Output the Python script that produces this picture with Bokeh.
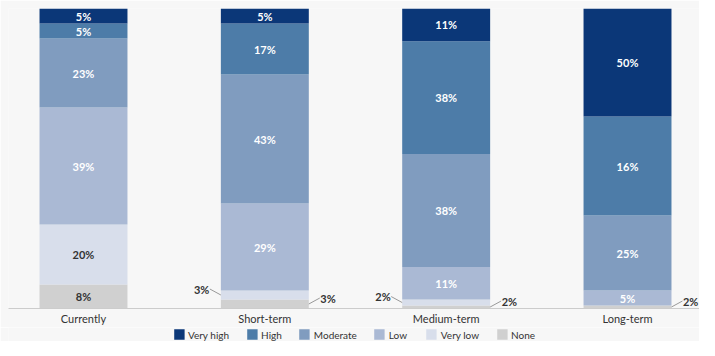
import numpy as np
from bokeh.plotting import figure
from bokeh.layouts import column
from bokeh.models import ColumnDataSource, Range1d, FixedTicker, Legend, LegendItem
from bokeh.embed import file_html
from bokeh.resources import INLINE
from bokeh.core.properties import value

categories = ["Currently", "Short-term", "Medium-term", "Long-term"]

# bar segment sizes, bottom to top
none = [8, 3, 1, 1]
very_low = [20, 3, 2, 0]
low = [39, 29, 11, 5]
moderate = [23, 43, 38, 25]
high = [5, 17, 38, 33]
very_high = [5, 5, 11, 36]

# data labels as printed on the chart
none_labels = ["8%", "3%", "2%", "2%"]
very_low_labels = ["20%", "3%", "2%", ""]
low_labels = ["39%", "29%", "11%", "5%"]
moderate_labels = ["23%", "43%", "38%", "25%"]
high_labels = ["5%", "17%", "38%", "16%"]
very_high_labels = ["5%", "5%", "11%", "50%"]

series = [
    ("None", none, none_labels, "#d0d0d0", "#333333", "right"),
    ("Very low", very_low, very_low_labels, "#d8deeb", "#333333", "left"),
    ("Low", low, low_labels, "#aab9d4", "#ffffff", "left"),
    ("Moderate", moderate, moderate_labels, "#809cbf", "#ffffff", "left"),
    ("High", high, high_labels, "#4d7ca8", "#ffffff", "left"),
    ("Very high", very_high, very_high_labels, "#0b3778", "#ffffff", "left"),
]

BG = "#f7f7f7"
FRAME_W, FRAME_H = 691, 300
X0, X1 = -0.4136, 3.397
BAR_W = 0.485
px_x = (X1 - X0) / FRAME_W
px_y = 100.0 / FRAME_H

p = figure(frame_width=FRAME_W, frame_height=FRAME_H, output_backend="svg", toolbar_location=None,
           x_range=Range1d(X0, X1), y_range=Range1d(0, 100),
           min_border_left=8, min_border_right=0, min_border_top=8, min_border_bottom=0)
p.background_fill_color = BG
p.border_fill_color = BG
p.outline_line_color = None
p.grid.visible = False
p.yaxis.visible = False

# small strip below the chart that carries the legend
lg = figure(frame_width=FRAME_W, frame_height=14, output_backend="svg", toolbar_location=None,
            x_range=Range1d(X0, X1), y_range=Range1d(1000, 1001),
            x_axis_type=None, y_axis_type=None,
            min_border_left=8, min_border_right=0, min_border_top=0, min_border_bottom=0)
lg.background_fill_color = BG
lg.border_fill_color = BG
lg.outline_line_color = None
lg.grid.visible = False

xs = np.arange(len(categories))
totals = np.sum([np.array(s[1], dtype=float) for s in series], axis=0)
bottom = np.zeros(len(categories))

legend_items = {}
in_x, in_y, in_t, in_c = [], [], [], []
out_l = dict(x=[], y=[], t=[], x0=[], y0=[], x1=[], y1=[])
out_r = dict(x=[], y=[], t=[], x0=[], y0=[], x1=[], y1=[])

for name, vals, labels, color, tcolor, side in series:
    v = np.array(vals, dtype=float) / totals * 100.0
    top = bottom + v
    src = ColumnDataSource(dict(x=xs, bottom=bottom.copy(), top=top.copy()))
    p.vbar(x="x", bottom="bottom", top="top", width=BAR_W, source=src,
           fill_color=color, line_color=None)
    legend_items[name] = lg.vbar(x="x", bottom="bottom", top="top", width=BAR_W, source=src,
                                 fill_color=color, line_color=None)
    for i in range(len(categories)):
        if not labels[i]:
            continue
        mid = (bottom[i] + top[i]) / 2
        if vals[i] >= 4:
            in_x.append(xs[i]); in_y.append(mid); in_t.append(labels[i]); in_c.append(tcolor)
        else:
            d = out_l if side == "left" else out_r
            edge = xs[i] - BAR_W / 2 if side == "left" else xs[i] + BAR_W / 2
            sgn = -1 if side == "left" else 1
            ex = edge + sgn * 11 * px_x
            ey = mid + 6 * px_y
            d["x0"].append(edge); d["y0"].append(mid)
            d["x1"].append(ex); d["y1"].append(ey)
            d["x"].append(ex + sgn * 0.5 * px_x); d["y"].append(ey); d["t"].append(labels[i])
    bottom = top

p.text(x="x", y="y", text="t", text_color="c",
       source=ColumnDataSource(dict(x=in_x, y=in_y, t=in_t, c=in_c)),
       text_font=value("Lato"), text_font_style="bold", text_font_size="11px",
       text_align="center", text_baseline="middle")

for d, align in ((out_l, "right"), (out_r, "left")):
    s = ColumnDataSource(d)
    p.segment(x0="x0", y0="y0", x1="x1", y1="y1", source=s, line_color="#999999", line_width=1)
    p.text(x="x", y="y", text="t", source=s, text_color="#333333",
           text_font=value("Lato"), text_font_style="bold", text_font_size="11px",
           text_align=align, text_baseline="middle")

ax = p.xaxis[0]
ax.ticker = FixedTicker(ticks=list(xs))
ax.major_label_overrides = {int(i): c for i, c in zip(xs, categories)}
ax.major_tick_line_color = None
ax.minor_tick_line_color = None
ax.major_tick_out = 0
ax.major_tick_in = 0
ax.minor_tick_out = 0
ax.axis_line_color = "#cccccc"
ax.major_label_text_font = "Lato"
ax.major_label_text_font_size = "11px"
ax.major_label_text_color = "#333333"
ax.major_label_standoff = 3

order = ["Very high", "High", "Moderate", "Low", "Very low", "None"]
legend = Legend(items=[LegendItem(label=n, renderers=[legend_items[n]]) for n in order],
                orientation="horizontal", location="center",
                glyph_width=13, glyph_height=13, label_standoff=3, spacing=16,
                padding=0, margin=0, border_line_color=None, background_fill_alpha=0,
                label_text_font="Lato", label_text_font_size="10px",
                label_text_color="#333333", label_height=13)
lg.add_layout(legend, "center")

layout = column(p, lg, spacing=0)
open("out.html", "w").write(file_html(layout, INLINE))
